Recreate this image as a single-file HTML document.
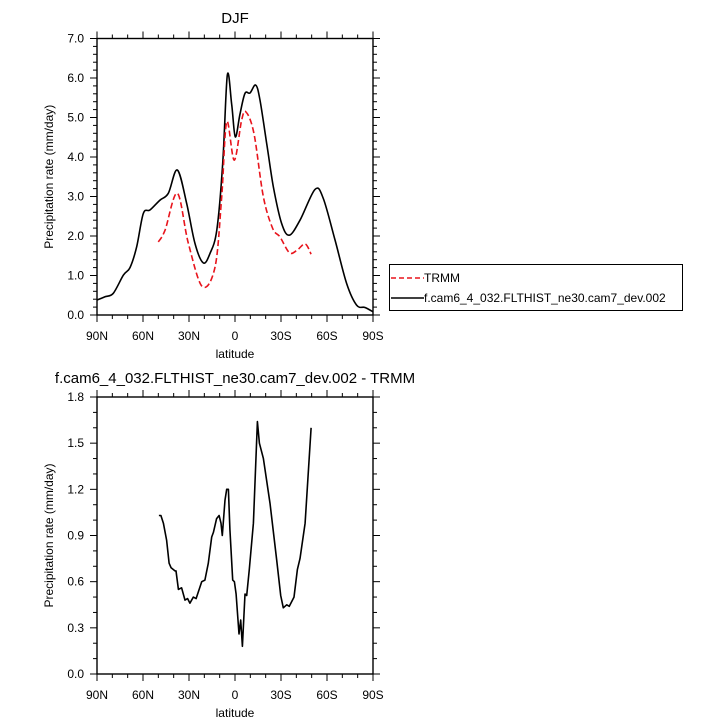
<!DOCTYPE html>
<html><head><meta charset="utf-8">
<style>
html,body{margin:0;padding:0;background:#fff;}
svg{display:block;font-family:"Liberation Sans",Helvetica,Arial,sans-serif;}
</style></head>
<body>
<svg id="chart" width="727" height="727" viewBox="0 0 727 727" xmlns="http://www.w3.org/2000/svg"></svg>
<script>
const modelLat = [90,84.8,79.4,72.8,68.5,64.1,59.8,55.4,48.9,43.5,37.6,31.5,26.1,20.7,16.3,11.9,8.0,5.0,2.2,-0.2,-3.3,-6.5,-9.8,-13.5,-16.3,-20.7,-25,-30.4,-35.4,-42.4,-52.2,-57.6,-65.2,-72.8,-79.3,-84.8,-90];
const modelVal = [0.38,0.46,0.55,1.01,1.2,1.73,2.57,2.66,2.91,3.08,3.67,2.82,1.81,1.32,1.56,2.15,3.84,6.07,5.35,4.51,5.1,5.61,5.62,5.82,5.44,4.34,3.25,2.32,2.02,2.40,3.18,2.95,1.90,0.80,0.25,0.19,0.08];
const trmmLat = [50,45.6,37.6,30.4,21.3,13,8.7,5.4,0.5,-4.3,-7.2,-12.4,-18.5,-24.6,-29.3,-35.4,-40.2,-45.7,-49.6];
const trmmVal = [1.85,2.15,3.08,1.81,0.72,1.22,2.99,4.89,3.92,4.93,5.14,4.59,2.99,2.19,1.98,1.58,1.63,1.80,1.54];
const diffLat = [49.6,48.3,46.7,44.6,43.0,41.7,39.1,38.5,36.9,34.8,32.6,30.9,29.4,27.2,25.4,21.7,19.6,17.4,15.2,14.1,12.0,10.4,9.1,8.3,6.5,5.4,4.3,3.3,1.5,0.4,-0.7,-2.6,-3.7,-4.8,-6.5,-7.6,-9.3,-12.0,-14.6,-15.9,-18.5,-22.8,-27.2,-29.8,-31.5,-33.7,-35.4,-38.5,-40.7,-42.4,-45.7,-49.6];
const diffVal = [1.03,1.03,0.98,0.87,0.72,0.69,0.67,0.67,0.55,0.56,0.48,0.49,0.46,0.50,0.49,0.60,0.61,0.72,0.89,0.92,1.01,1.03,0.98,0.90,1.13,1.20,1.20,0.94,0.61,0.60,0.52,0.26,0.35,0.18,0.52,0.51,0.68,0.98,1.64,1.50,1.40,1.11,0.74,0.51,0.43,0.45,0.44,0.50,0.68,0.75,0.98,1.60];
const xTickLabels = ["90N","60N","30N","0","30S","60S","90S"];
const xTickVals = [90,60,30,0,-30,-60,-90];
const topYTicks = [0,1,2,3,4,5,6,7];
const botYTicks = [0,0.3,0.6,0.9,1.2,1.5,1.8];

const NS="http://www.w3.org/2000/svg";
const svg=document.getElementById('chart');
function mk(tag,attrs,parent){const e=document.createElementNS(NS,tag);for(const k in attrs)e.setAttribute(k,attrs[k]);(parent||svg).appendChild(e);return e;}
const X0=97,X1=373;
function xs(lat){return X0+(90-lat)/180*(X1-X0);}

function panel(name,top,bot,ymax,yTicks,minorStep,fmt){
  const g=mk('g',{});
  
  
  const ys=v=>bot-(v/ymax)*(bot-top);
  const box=mk('rect',{x:X0,y:top,width:X1-X0,height:bot-top,fill:'none',stroke:'#000','stroke-width':1.4},g);
  
  
  for(let lat=90;lat>=-90;lat-=10){
    const x=xs(lat);const major=lat%30===0;const L=major?7:4;
    mk('line',{x1:x,x2:x,y1:bot,y2:bot+L,stroke:'#000','stroke-width':1},g);
    mk('line',{x1:x,x2:x,y1:top,y2:top-L,stroke:'#000','stroke-width':1},g);
  }
  xTickLabels.forEach((t,i)=>{
    const tx=mk('text',{x:xs(xTickVals[i]),y:bot+25,'text-anchor':'middle','font-size':12},g);
    tx.textContent=t;
    
    
  });
  const nMinor=Math.round(ymax/minorStep);
  for(let i=0;i<=nMinor;i++){
    const v=i*minorStep;const y=ys(v);
    const major=yTicks.some(t=>Math.abs(t-v)<1e-6);const L=major?7:4;
    mk('line',{x1:X0,x2:X0-L,y1:y,y2:y,stroke:'#000','stroke-width':1},g);
    mk('line',{x1:X1,x2:X1+L,y1:y,y2:y,stroke:'#000','stroke-width':1},g);
  }
  yTicks.forEach(v=>{
    const tx=mk('text',{x:X0-13,y:ys(v)+4,'text-anchor':'end','font-size':12},g);
    tx.textContent=fmt(v);
    
    
  });
  const xt=mk('text',{x:(X0+X1)/2,y:bot+43,'text-anchor':'middle','font-size':12},g);
  xt.textContent='latitude';
  
  
  const yt=mk('text',{x:0,y:0,'text-anchor':'middle','font-size':12,transform:`translate(53,${(top+bot)/2}) rotate(-90)`},g);
  yt.textContent='Precipitation rate (mm/day)';
  
  
  return ys;
}
function line(lats,vals,ys,attrs,name,smooth){
  const P=lats.map((l,i)=>[xs(l),ys(vals[i])]);
  let d='M'+P[0][0].toFixed(1)+','+P[0][1].toFixed(1);
  for(let i=0;i<P.length-1;i++){
    if(!smooth){d+=' L'+P[i+1][0].toFixed(1)+','+P[i+1][1].toFixed(1);continue;}
    const p0=P[Math.max(0,i-1)],p1=P[i],p2=P[i+1],p3=P[Math.min(P.length-1,i+2)];
    const c1=[p1[0]+(p2[0]-p0[0])/6,p1[1]+(p2[1]-p0[1])/6];
    const c2=[p2[0]-(p3[0]-p1[0])/6,p2[1]-(p3[1]-p1[1])/6];
    d+=` C${c1[0].toFixed(1)},${c1[1].toFixed(1)} ${c2[0].toFixed(1)},${c2[1].toFixed(1)} ${p2[0].toFixed(1)},${p2[1].toFixed(1)}`;
  }
  const p=mk('path',Object.assign({d:d,fill:'none','stroke-linejoin':'round'},attrs));
  
  
}

const ysTop=panel('top-panel',38.5,315,7,topYTicks,0.2,v=>v.toFixed(1));
line(modelLat,modelVal,ysTop,{stroke:'#000','stroke-width':1.6},'model-line',true);
line(trmmLat,trmmVal,ysTop,{stroke:'#e8141c','stroke-width':1.6,'stroke-dasharray':'6,3'},'trmm-line',true);
const t1=mk('text',{x:235,y:23,'text-anchor':'middle','font-size':15});
t1.textContent='DJF';



const ysBot=panel('bottom-panel',397,674,1.8,botYTicks,0.1,v=>v.toFixed(1));
line(diffLat,diffVal,ysBot,{stroke:'#000','stroke-width':1.6},'difference-line',false);
const t2=mk('text',{x:235,y:383,'text-anchor':'middle','font-size':15});
t2.textContent='f.cam6_4_032.FLTHIST_ne30.cam7_dev.002 - TRMM';



const lg=mk('g',{});


mk('rect',{x:389.5,y:264.5,width:293,height:46,fill:'none',stroke:'#000','stroke-width':1},lg);
mk('line',{x1:391,x2:424,y1:278,y2:278,stroke:'#e8141c','stroke-width':1.5,'stroke-dasharray':'5,3'},lg);
const l1=mk('text',{x:424,y:282,'font-size':12},lg);
l1.textContent='TRMM';


mk('line',{x1:391,x2:424,y1:298,y2:298,stroke:'#000','stroke-width':1.5},lg);
const l2=mk('text',{x:424,y:302,'font-size':12},lg);
l2.textContent='f.cam6_4_032.FLTHIST_ne30.cam7_dev.002';


</script>
</body></html>
